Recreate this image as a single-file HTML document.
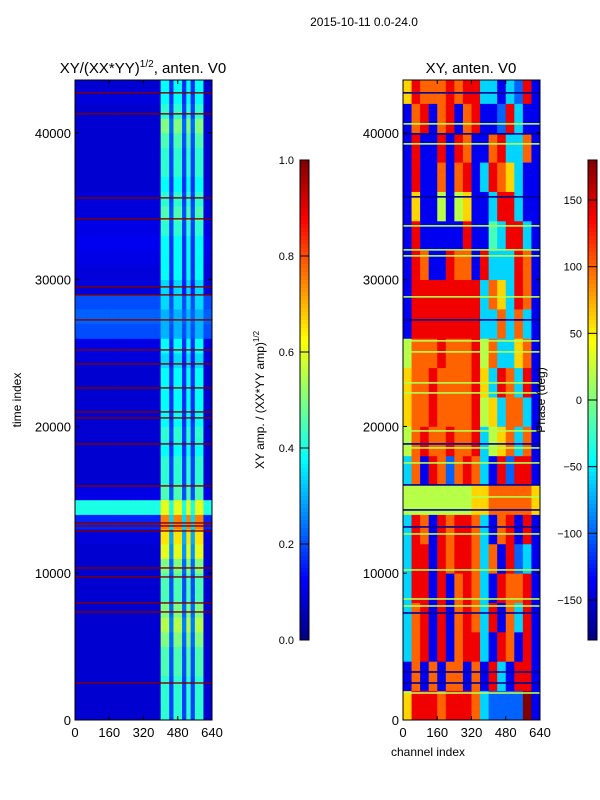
<!DOCTYPE html>
<html><head><meta charset="utf-8"><style>
html,body{margin:0;padding:0;background:#fff}
svg{display:block;font-family:"Liberation Sans","DejaVu Sans",sans-serif}
</style></head><body>
<svg id="fig" width="600" height="800" viewBox="0 0 600 800" xmlns="http://www.w3.org/2000/svg">
<text x="364" y="26" font-size="12" text-anchor="middle">2015-10-11 0.0-24.0</text>
<text x="143" y="73" font-size="15" text-anchor="middle">XY/(XX*YY)<tspan font-size="10" dy="-6">1/2</tspan><tspan dy="6">, anten. V0</tspan></text>
<text x="471" y="73" font-size="15" text-anchor="middle">XY, anten. V0</text>
<text x="21" y="400" font-size="12" text-anchor="middle" transform="rotate(-90 21 400)">time index</text>
<text x="428" y="756" font-size="12" text-anchor="middle">channel index</text>
<text x="264" y="400" font-size="12" text-anchor="middle" transform="rotate(-90 264 400)">XY amp. / (XX*YY amp)<tspan font-size="8" dy="-5">1/2</tspan></text>
<g id="left"></g>
<g id="right"></g>
<g id="cbars"></g>
<g id="axes"></g>
<text x="545" y="400" font-size="12" text-anchor="middle" transform="rotate(-90 545 400)">Phase (deg)</text>
</svg>
<script>
// ---- data ----
const timeMax = 43600;
const chanMax = 640;
const xTicks = [0,160,320,480,640];
const yTicks = [0,10000,20000,30000,40000];
const cb1Ticks = [0.0,0.2,0.4,0.6,0.8,1.0];
const cb2Ticks = [-150,-100,-50,0,50,100,150];
// left panel: per 1000-time row, amplitude in the bright channel band and background
const leftHi = [0.42,0.42,0.42,0.45,0.45,0.5,0.55,0.5,0.45,0.45,0.5,0.6,0.65,0.75,0.6,0.45,0.42,0.42,0.38,0.42,0.38,0.38,0.38,0.38,0.34,0.38,0.3,0.3,0.34,0.34,0.38,0.38,0.38,0.42,0.45,0.42,0.38,0.42,0.42,0.45,0.5,0.42,0.38,0.38];
const leftBg = [0.08,0.08,0.08,0.08,0.08,0.08,0.08,0.08,0.08,0.08,0.08,0.08,0.09,0.16,0.4,0.1,0.08,0.08,0.08,0.08,0.08,0.08,0.08,0.08,0.09,0.1,0.2,0.22,0.2,0.09,0.09,0.1,0.11,0.1,0.09,0.09,0.08,0.08,0.08,0.08,0.08,0.08,0.09,0.08];
const leftRedLines = [42726,41295,35570,34140,29506,28960,27257,25213,24259,22624,20988,20580,18808,15946,13424,13220,12879,10358,9745,7973,7360,2521];
// right panel: phase grid, rows of 2000 time (bottom first), 16 columns of 40 channels, digit = value*9
const rightRows = [
"6888788873222291","1717177171831881","3781817883187181","3781817873817381",
"3881817873187781","3881878873718231","3871878873178181","5555555566777776",
"3718727873182881","5787787783567371","6778777785637731","6778777786387381",
"5777877785733671","1888888883373731","1888888883763871","1871187718333871",
"1811111811438831","1611515611388311","1811717813876311","1811818711783371",
"1781781781128311","6877787883313281"];
const rightGreenLines = [40613,39250,33663,32028,31619,28825,25827,25078,22965,22283,19693,18535,17513,15196,12675,10222,8245,7768,1840];
const rightDarkLines = [42726,39932,35640,27257,18808,16014,14310,13152,7291,3271,2521];

// ---- helpers ----
const NS="http://www.w3.org/2000/svg";
function jet(v){v=Math.max(0,Math.min(1,v));const c=x=>Math.round(255*Math.max(0,Math.min(1,1.5-Math.abs(x))));return `rgb(${c(4*v-3)},${c(4*v-2)},${c(4*v-1)})`;}
function mk(tag,attrs,parent){const e=document.createElementNS(NS,tag);for(const k in attrs)e.setAttribute(k,attrs[k]);parent.appendChild(e);return e;}
const Y0=720,Y1=80;
const yS=t=>Y0-(t/timeMax)*(Y0-Y1);
const L={x0:75,x1:212}, R={x0:403,x1:540};
const xS=(p,c)=>p.x0+(c/chanMax)*(p.x1-p.x0);

// left heatmap
const gl=document.getElementById('left');
const stripeCols=[22,25,27];
for(let r=0;r<leftHi.length;r++){
  const t0=r*1000,t1=Math.min(timeMax,(r+1)*1000);
  for(let c=0;c<32;c++){
    let v=leftBg[r];
    if(c>=20&&c<=29){v=stripeCols.includes(c)?Math.max(leftBg[r],leftHi[r]*0.45):leftHi[r];}
    const e=mk('rect',{x:xS(L,c*20),y:yS(t1),width:xS(L,20)-L.x0+0.4,height:yS(t0)-yS(t1)+0.4,fill:jet(v)},gl);
    
    
  }
}
leftRedLines.forEach(t=>{const e=mk('rect',{x:L.x0,y:yS(t)-0.7,width:L.x1-L.x0,height:1.4,fill:jet(1)},gl);
  
  });

// right heatmap
const gr=document.getElementById('right');
rightRows.forEach((row,r)=>{
  const t0=r*2000,t1=Math.min(timeMax,(r+1)*2000);
  for(let c=0;c<row.length;c++){
    const v=parseInt(row[c])/9;
    const e=mk('rect',{x:xS(R,c*40),y:yS(t1),width:xS(R,40)-R.x0+0.4,height:yS(t0)-yS(t1)+0.4,fill:jet(v)},gr);
    
    
  }
});
rightGreenLines.forEach(t=>{const e=mk('rect',{x:R.x0,y:yS(t)-0.8,width:R.x1-R.x0,height:1.6,fill:jet(0.55)},gr);
  
  });
rightDarkLines.forEach(t=>{const e=mk('rect',{x:R.x0,y:yS(t)-0.8,width:R.x1-R.x0,height:1.6,fill:jet(0.02)},gr);
  
  });

// colorbars
const gc=document.getElementById('cbars');
function cbar(x,lo,hi,ticks,name){
  const n=120;
  for(let i=0;i<n;i++){mk('rect',{x:x,y:160+i*4,width:9,height:4.3,fill:jet(1-(i+0.5)/n)},gc);}
  const f=mk('rect',{x:x,y:160,width:9,height:480,fill:'none',stroke:'#000','stroke-width':1},gc);
  
  
  ticks.forEach(v=>{const y=640-(v-lo)/(hi-lo)*480;
    mk('line',{x1:x,x2:x+9,y1:y,y2:y,stroke:'#000','stroke-width':1},gc);
    const t=mk('text',{x:x-6,y:y+4,'font-size':11,'text-anchor':'end'},gc);t.textContent=(name==='colorbar-amp')?v.toFixed(1):String(v).replace('-','\u2212');
    
    });
}
cbar(300,0,1,cb1Ticks,'colorbar-amp');
cbar(588,-180,180,cb2Ticks,'colorbar-phase');

// axes
const ga=document.getElementById('axes');
[L,R].forEach((p,pi)=>{
  const f=mk('rect',{x:p.x0,y:Y1,width:p.x1-p.x0,height:Y0-Y1,fill:'none',stroke:'#000','stroke-width':1},ga);
  
  
  xTicks.forEach(v=>{const x=xS(p,v);
    mk('line',{x1:x,x2:x,y1:Y0,y2:Y0-4,stroke:'#000'},ga);mk('line',{x1:x,x2:x,y1:Y1,y2:Y1+4,stroke:'#000'},ga);
    const t=mk('text',{x:x,y:Y0+17,'font-size':13,'text-anchor':'middle'},ga);t.textContent=v;
    
    });
  yTicks.forEach(v=>{const y=yS(v);
    mk('line',{x1:p.x0,x2:p.x0+4,y1:y,y2:y,stroke:'#000'},ga);mk('line',{x1:p.x1,x2:p.x1-4,y1:y,y2:y,stroke:'#000'},ga);
    const t=mk('text',{x:p.x0-4,y:y+5,'font-size':13,'text-anchor':'end'},ga);t.textContent=v;
    
    });
});
</script>
</body></html>
